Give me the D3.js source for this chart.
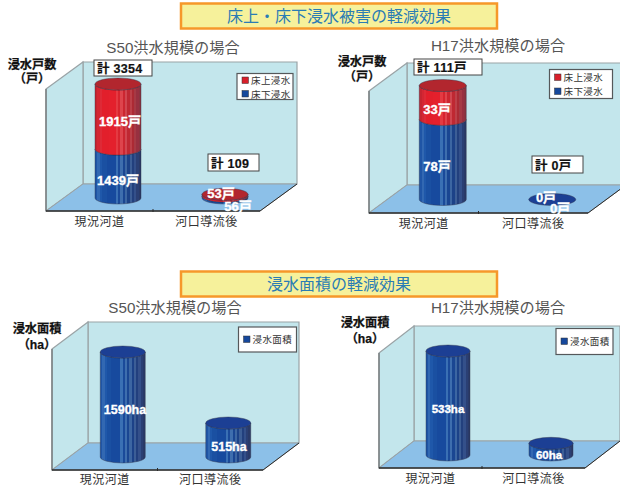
<!DOCTYPE html>
<html>
<head>
<meta charset="utf-8">
<script src="https://cdn.jsdelivr.net/npm/d3@7/dist/d3.min.js"></script>
<style>
html,body{margin:0;padding:0;background:#fff;overflow:hidden}
text{font-family:"Liberation Sans","Noto Sans CJK JP",sans-serif}
</style>
</head>
<body>
<svg id="chart" width="620" height="488"></svg>
<script>
// Flood reduction figures
const categories = ["現況河道", "河口導流後"];
const seriesUpper = "床上浸水";
const seriesLower = "床下浸水";
const seriesArea = "浸水面積";

const s50Upper = [1915, 53];
const s50Lower = [1439, 56];
const s50Totals = ["計 3354", "計 109"];
const h17Upper = [33, 0];
const h17Lower = [78, 0];
const h17Totals = ["計 111戸", "計 0戸"];
const s50Area = [1590, 515];
const h17Area = [533, 60];

const sectionTitles = ["床上・床下浸水被害の軽減効果", "浸水面積の軽減効果"];
const panelTitles = ["S50洪水規模の場合", "H17洪水規模の場合"];

const RED = "#d81f2a", BLUE = "#16489c";
const svg = d3.select("#chart");
const defs = svg.append("defs");

// Vertical facet bands that give the cylinders their ribbed shading
function ribs(id, stops) {
  const g = defs.append("linearGradient").attr("id", id);
  const n = stops.length;
  stops.forEach((c, i) => {
    g.append("stop").attr("offset", i / n).attr("stop-color", c);
    g.append("stop").attr("offset", (i + 1) / n).attr("stop-color", c);
  });
}
ribs("ribRed", ["#c62430","#d42632","#de2a36","#e21f2b","#e21f2b","#e21f2b","#e4202c","#e4202c","#e4202c","#e43a42","#d8242e","#de444c","#cc2630","#d04650","#bf2832","#bc4049","#ac2a34","#a63a45","#983040","#8c3440"]);
ribs("ribBlue", ["#1f55a6","#3268b2","#1f58aa","#1a50a2","#1a50a2","#174a9e","#174a9e","#174a9e","#174a9e","#3a70b4","#1a4a9a","#3e6eae","#1a4692","#3c66a2","#1c4288","#3c5e96","#22407e","#34508a","#2a3f74","#2a3a68"]);

function sectionHeader(title, y) {
  svg.append("rect").attr("x", 181).attr("y", y).attr("width", 316).attr("height", 25)
    .attr("fill", "#f6f19b").attr("stroke", "#f6982a").attr("stroke-width", 2.5);
  svg.append("text").attr("x", 339).attr("y", y + 18.5).attr("text-anchor", "middle")
    .attr("font-size", 16).attr("fill", "#2a7cb4").text(title);
}

// Draws one pseudo-3D chart: box, floor, cylinders, callouts and legend
function panel(p) {
  const g = svg.append("g");
  const { left, right, bottom, top, dx, dy } = p;

  const x = d3.scaleBand().domain(categories).range([left, right]);
  const maxTotal = d3.max(categories, (c, i) => d3.sum(p.stacks, s => s.values[i]));
  const h = d3.scaleLinear().domain([0, maxTotal]).range([0, p.barHeight]);

  const poly = pts => d3.line()(pts) + "Z";
  // back wall, side wall, floor
  g.append("path").attr("d", poly([[left + dx, top - dy], [right + dx, top - dy], [right + dx, bottom - dy], [left + dx, bottom - dy]]))
    .attr("fill", "#c3e6ec").attr("stroke", "#9aa3a6").attr("stroke-width", 1.2);
  g.append("path").attr("d", poly([[left, top], [left + dx, top - dy], [left + dx, bottom - dy], [left, bottom]]))
    .attr("fill", "#c3e6ec").attr("stroke", "#9aa3a6").attr("stroke-width", 1.2);
  g.append("path").attr("d", poly([[left, bottom], [right, bottom], [right + dx, bottom - dy], [left + dx, bottom - dy]]))
    .attr("fill", "#8cc0e8").attr("stroke", "#9aa3a6").attr("stroke-width", 1);

  // front axis lines
  g.append("line").attr("x1", left).attr("x2", left).attr("y1", top).attr("y2", bottom)
    .attr("stroke", "#6c7072").attr("stroke-width", 1.2);
  g.append("line").attr("x1", left).attr("x2", right).attr("y1", bottom).attr("y2", bottom)
    .attr("stroke", "#2a2a2a").attr("stroke-width", 1.4);
  g.append("line").attr("x1", right).attr("x2", right + dx).attr("y1", bottom).attr("y2", bottom - dy)
    .attr("stroke", "#2a2a2a").attr("stroke-width", 1);
  g.append("line").attr("x1", (left + right) / 2).attr("x2", (left + right) / 2).attr("y1", bottom - 2).attr("y2", bottom + 1)
    .attr("stroke", "#2a2a2a");

  // category labels
  categories.forEach(c => {
    g.append("text").attr("x", x(c) + x.bandwidth() / 2).attr("y", bottom + p.catGap)
      .attr("text-anchor", "middle").attr("font-size", 12).attr("letter-spacing", 0.5)
      .attr("fill", "#333").text(c);
  });

  // cylinders, stacked from the floor upward
  const rx = p.rx, ry = 6;
  categories.forEach((c, i) => {
    const cx = x(c) + x.bandwidth() / 2 + dx / 2;
    const floorY = bottom - dy / 2 + 0.5;
    let acc = 0;
    let lastColor = p.stacks[0].top;
    p.stacks.forEach(s => {
      const y0 = floorY - h(acc);
      acc += s.values[i];
      const y1 = floorY - h(acc);
      if (y0 - y1 > 0.2) {
        g.append("path")
          .attr("d", `M${cx - rx},${y0}A${rx},${ry} 0 0 0 ${cx + rx},${y0}L${cx + rx},${y1}A${rx},${ry} 0 0 1 ${cx - rx},${y1}Z`)
          .attr("fill", `url(#${s.rib})`).attr("stroke", "#2b2b40").attr("stroke-width", 0.4);
      }
      lastColor = s.top;
    });
    const yTop = floorY - h(acc);
    g.append("ellipse").attr("cx", cx).attr("cy", yTop).attr("rx", rx).attr("ry", ry)
      .attr("fill", acc > 0 ? lastColor : p.zeroColor).attr("stroke", "#2b2b40").attr("stroke-width", 0.4);
  });

  // value labels
  p.labels.forEach(l => {
    g.append("text").attr("x", l.x).attr("y", l.y).attr("text-anchor", "middle")
      .attr("font-size", l.size || 13).attr("font-weight", 700).attr("fill", "#fff")
      .attr("stroke", "#fff").attr("stroke-width", 0.35).text(l.text);
  });

  // total callouts
  (p.callouts || []).forEach(b => {
    g.append("rect").attr("x", b.x).attr("y", b.y).attr("width", b.w).attr("height", b.h)
      .attr("fill", "#fff").attr("stroke", "#444").attr("stroke-width", 1);
    g.append("text").attr("x", b.x + 3).attr("y", b.y + b.h - 3.5).attr("font-size", 12.5)
      .attr("font-weight", 700).attr("fill", "#111").attr("stroke", "#111").attr("stroke-width", 0.2)
      .attr("letter-spacing", 0.3).text(b.text);
  });

  // legend
  const lg = g.append("g");
  lg.append("rect").attr("x", p.legend.x).attr("y", p.legend.y).attr("width", p.legend.w).attr("height", p.legend.h)
    .attr("fill", "#fff").attr("stroke", "#55585a").attr("stroke-width", 1.2);
  p.legend.items.forEach((it, k) => {
    const cy = p.legend.y + p.legend.first + k * p.legend.step;
    lg.append("rect").attr("x", p.legend.x + 5).attr("y", cy - 3.5).attr("width", 6.5).attr("height", 6.5)
      .attr("fill", it.color).attr("stroke", "#333").attr("stroke-width", 0.5);
    lg.append("text").attr("x", p.legend.x + 14).attr("y", cy + 3.5).attr("font-size", 9.5)
      .attr("letter-spacing", 0.4).attr("fill", "#333").text(it.name);
  });

  // panel heading and unit caption
  g.append("text").attr("x", p.title.x).attr("y", p.title.y).attr("text-anchor", "middle")
    .attr("font-size", 15.2).attr("fill", "#555").text(p.title.text);
  p.unit.lines.forEach((t, k) => {
    g.append("text").attr("x", p.unit.x).attr("y", p.unit.y + k * p.unit.step).attr("text-anchor", "middle")
      .attr("font-size", 12.2).attr("font-weight", 700).attr("fill", "#111")
      .attr("stroke", "#111").attr("stroke-width", 0.25).text(t);
  });
}

sectionHeader(sectionTitles[0], 3.5);
sectionHeader(sectionTitles[1], 271.5);

const redTop = "#b2262e", blueTop = "#1c3f94";
const lowerStack = v => ({ values: v, rib: "ribBlue", top: blueTop });
const upperStack = v => ({ values: v, rib: "ribRed", top: redTop });
const pairLegend = [{ name: seriesUpper, color: RED }, { name: seriesLower, color: BLUE }];
const areaLegend = [{ name: seriesArea, color: BLUE }];

panel({
  left: 46, right: 260, bottom: 211, top: 89, dx: 37, dy: 27, barHeight: 114, rx: 23, catGap: 15,
  zeroColor: blueTop,
  stacks: [lowerStack(s50Lower), upperStack(s50Upper)],
  labels: [
    { text: s50Upper[0] + "戸", x: 120, y: 126 },
    { text: s50Lower[0] + "戸", x: 118, y: 185 },
    { text: s50Upper[1] + "戸", x: 221, y: 198 },
    { text: s50Lower[1] + "戸", x: 238, y: 211 }
  ],
  callouts: [
    { text: s50Totals[0], x: 94, y: 60, w: 58, h: 16 },
    { text: s50Totals[1], x: 208, y: 154, w: 51, h: 17 }
  ],
  legend: { x: 237, y: 73.5, w: 56, h: 26, first: 7, step: 13.5, items: pairLegend },
  title: { x: 173, y: 53, text: panelTitles[0] },
  unit: { x: 32, y: 69, step: 14, lines: ["浸水戸数", "（戸）"] }
});

panel({
  left: 369, right: 588, bottom: 213, top: 91, dx: 38, dy: 28, barHeight: 114, rx: 23.5, catGap: 15,
  zeroColor: blueTop,
  stacks: [lowerStack(h17Lower), upperStack(h17Upper)],
  labels: [
    { text: h17Upper[0] + "戸", x: 437, y: 114 },
    { text: h17Lower[0] + "戸", x: 437, y: 171 },
    { text: h17Upper[1] + "戸", x: 546, y: 202 },
    { text: h17Lower[1] + "戸", x: 560, y: 213 }
  ],
  callouts: [
    { text: h17Totals[0], x: 414, y: 59, w: 68, h: 16 },
    { text: h17Totals[1], x: 532, y: 156, w: 51, h: 17 }
  ],
  legend: { x: 549.5, y: 69.5, w: 63, h: 29, first: 8, step: 14, items: pairLegend },
  title: { x: 498, y: 51, text: panelTitles[1] },
  unit: { x: 362, y: 66, step: 15, lines: ["浸水戸数", "（戸）"] }
});

panel({
  left: 52, right: 263, bottom: 470, top: 349, dx: 36, dy: 27, barHeight: 105, rx: 22.5, catGap: 14,
  zeroColor: blueTop,
  stacks: [lowerStack(s50Area)],
  labels: [
    { text: s50Area[0] + "ha", x: 125, y: 414, size: 12.5 },
    { text: s50Area[1] + "ha", x: 229, y: 451, size: 12.5 }
  ],
  legend: { x: 238.5, y: 327, w: 58, h: 25, first: 12.5, step: 0, items: areaLegend },
  title: { x: 175, y: 313, text: panelTitles[0] },
  unit: { x: 37, y: 333, step: 16, lines: [seriesArea, "（ha）"] }
});

panel({
  left: 379, right: 585, bottom: 468, top: 353, dx: 35, dy: 27, barHeight: 104, rx: 22, catGap: 15,
  zeroColor: blueTop,
  stacks: [lowerStack(h17Area)],
  labels: [
    { text: h17Area[0] + "ha", x: 448, y: 413, size: 11.5 },
    { text: h17Area[1] + "ha", x: 549, y: 459, size: 11.5 }
  ],
  legend: { x: 556, y: 328.5, w: 57, h: 26, first: 13, step: 0, items: areaLegend },
  title: { x: 498, y: 313, text: panelTitles[1] },
  unit: { x: 365, y: 327, step: 16, lines: [seriesArea, "（ha）"] }
});
</script>
</body>
</html>
